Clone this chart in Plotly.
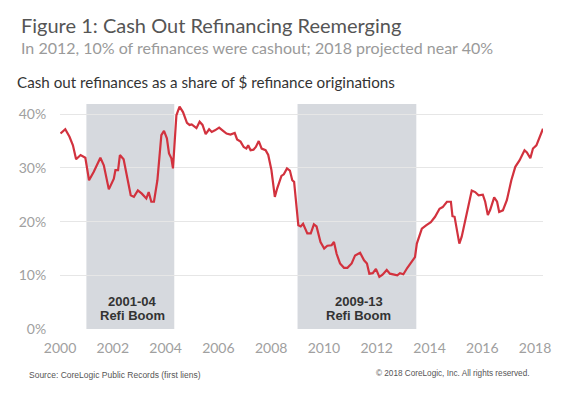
import plotly.graph_objects as go

# Cash out share of $ refinance originations (%)
year = [2000.02, 2000.20, 2000.36, 2000.49, 2000.61, 2000.78, 2000.96, 2001.10, 2001.28, 2001.53,
        2001.66, 2001.85, 2002.04, 2002.10, 2002.20, 2002.27, 2002.41, 2002.55, 2002.68, 2002.80,
        2002.95, 2003.10, 2003.27, 2003.36, 2003.46, 2003.56, 2003.69, 2003.84, 2003.94, 2004.05,
        2004.13, 2004.22, 2004.28, 2004.41, 2004.53, 2004.66, 2004.81, 2004.91, 2004.99, 2005.17,
        2005.29, 2005.40, 2005.52, 2005.65, 2005.75, 2005.87, 2006.03, 2006.18, 2006.31, 2006.46,
        2006.62, 2006.71, 2006.84, 2006.96, 2007.06, 2007.13, 2007.22, 2007.33, 2007.42, 2007.53,
        2007.64, 2007.79, 2007.89, 2008.01, 2008.14, 2008.23, 2008.39, 2008.48, 2008.60, 2008.71,
        2008.80, 2008.87, 2008.96, 2009.03, 2009.12, 2009.21, 2009.37, 2009.50, 2009.62, 2009.72,
        2009.87, 2010.01, 2010.13, 2010.29, 2010.38, 2010.48, 2010.61, 2010.76, 2010.89, 2011.05,
        2011.18, 2011.37, 2011.52, 2011.63, 2011.72, 2011.85, 2011.97, 2012.10, 2012.22, 2012.38,
        2012.50, 2012.63, 2012.78, 2012.88, 2013.01, 2013.16, 2013.33, 2013.45, 2013.52, 2013.62,
        2013.71, 2013.87, 2014.05, 2014.21, 2014.38, 2014.50, 2014.66, 2014.81, 2014.87, 2014.95,
        2015.04, 2015.13, 2015.22, 2015.35, 2015.48, 2015.60, 2015.73, 2015.86, 2016.02, 2016.11,
        2016.21, 2016.30, 2016.45, 2016.56, 2016.64, 2016.78, 2016.93, 2017.10, 2017.25, 2017.41,
        2017.60, 2017.69, 2017.82, 2017.92, 2018.05, 2018.13, 2018.30]
share = [36.4, 37.2, 35.8, 34.2, 31.6, 32.4, 31.9, 27.7, 29.3, 31.9,
         30.5, 26.0, 28.0, 29.6, 29.6, 32.4, 31.6, 28.0, 24.9, 24.6,
         25.8, 25.2, 24.3, 25.5, 23.7, 23.7, 27.7, 36.1, 36.9, 35.5,
         32.7, 31.8, 29.9, 39.8, 41.4, 40.4, 38.4, 38.0, 38.1, 37.4,
         38.6, 38.0, 36.3, 37.2, 36.7, 37.0, 37.5, 36.9, 36.4, 36.2,
         36.5, 35.3, 34.9, 33.9, 33.6, 34.2, 33.3, 33.4, 33.9, 35.0,
         33.6, 33.3, 32.4, 29.6, 24.6, 26.2, 28.5, 28.8, 29.9, 29.5,
         27.7, 27.4, 22.1, 19.3, 19.1, 19.6, 17.8, 17.8, 19.5, 19.1,
         16.2, 15.0, 15.5, 15.6, 16.2, 14.0, 12.2, 11.4, 11.4, 12.2,
         13.7, 14.2, 12.8, 12.2, 10.3, 10.4, 11.2, 9.7, 10.1, 11.0,
         10.3, 10.1, 10.0, 10.4, 10.2, 11.4, 12.5, 13.4, 15.9, 17.4,
         18.7, 19.3, 19.9, 20.9, 22.4, 22.7, 23.7, 23.7, 21.0, 20.9,
         18.4, 15.9, 17.2, 20.2, 23.4, 25.8, 25.5, 24.9, 25.0, 23.7,
         21.2, 22.2, 24.5, 23.7, 21.8, 22.1, 24.0, 27.7, 30.2, 31.4,
         33.3, 32.9, 31.8, 33.6, 34.2, 35.2, 37.3]

boom_start = [2001.0, 2009.0]
boom_end = [2004.33, 2013.5]
boom_period = ["2001-04", "2009-13"]
boom_name = ["Refi Boom", "Refi Boom"]

x_ticks = [2000, 2002, 2004, 2006, 2008, 2010, 2012, 2014, 2016, 2018]
y_ticks = [0, 10, 20, 30, 40]

FONT = "Lato"

fig = go.Figure()
fig.add_trace(go.Scatter(x=year, y=share, mode="lines",
                         line=dict(color="#d2323e", width=2.2),
                         hoverinfo="x+y", showlegend=False))

for s, e, p, n in zip(boom_start, boom_end, boom_period, boom_name):
    fig.add_vrect(x0=s, x1=e, fillcolor="#d6d9de", opacity=1, line_width=0, layer="below")
    mid = (s + e) / 2
    fig.add_annotation(x=mid, y=5.1, text=f"<b>{p}</b>", showarrow=False, xshift=2,
                       font=dict(family="Liberation Sans, Arial", size=13, color="#333333"))
    fig.add_annotation(x=mid, y=2.5, text=f"<b>{n}</b>", showarrow=False, xshift=2,
                       font=dict(family="Liberation Sans, Arial", size=13, color="#333333"))

# titles and notes
fig.add_annotation(xref="paper", yref="paper", x=0, y=1, xanchor="left", yanchor="middle",
                   xshift=-41, yshift=79, showarrow=False,
                   text="Figure 1: Cash Out Refinancing Reemerging",
                   font=dict(family=FONT, size=20, color="#555555"))
fig.add_annotation(xref="paper", yref="paper", x=0, y=1, xanchor="left", yanchor="middle",
                   xshift=-41, yshift=57, showarrow=False,
                   text="In 2012, 10% of refinances were cashout; 2018 projected near 40%",
                   font=dict(family=FONT, size=16, color="#9a9a9a"))
fig.add_annotation(xref="paper", yref="paper", x=0, y=1, xanchor="left", yanchor="middle",
                   xshift=-45, yshift=22, showarrow=False,
                   text="Cash out refinances as a share of $ refinance originations",
                   font=dict(family=FONT, size=15.2, color="#333333"))
fig.add_annotation(xref="paper", yref="paper", x=0, y=0, xanchor="left", yanchor="middle",
                   xshift=-33, yshift=-46, showarrow=False,
                   text="Source: CoreLogic Public Records (first liens)",
                   font=dict(family="Liberation Sans, Arial", size=8.5, color="#555555"))
fig.add_annotation(xref="paper", yref="paper", x=1, y=0, xanchor="right", yanchor="middle",
                   xshift=-12, yshift=-44, showarrow=False,
                   text="© 2018 CoreLogic, Inc. All rights reserved.",
                   font=dict(family="Liberation Sans, Arial", size=8.2, color="#555555"))

fig.update_layout(
    width=570, height=395,
    margin=dict(l=60, r=27, t=104, b=66),
    paper_bgcolor="white", plot_bgcolor="white",
    font=dict(family=FONT, color="#999999"),
    xaxis=dict(range=[2000, 2018.3], tickvals=x_ticks, ticktext=[str(t) for t in x_ticks],
               showgrid=False, zeroline=False, showline=False,
               ticks="outside", ticklen=6, tickcolor="rgba(0,0,0,0)",
               tickfont=dict(family=FONT, size=14, color="#a0a0a0")),
    yaxis=dict(range=[0, 41.9], tickvals=y_ticks, ticktext=[f"{t}%" for t in y_ticks],
               showgrid=True, gridcolor="#e6e6e6", gridwidth=1, zeroline=False, showline=False,
               ticks="outside", ticklen=10, tickcolor="rgba(0,0,0,0)",
               tickfont=dict(family=FONT, size=14, color="#a0a0a0")),
)

fig.write_html("out.html", config={"displayModeBar": False},
               post_script="document.body.style.margin='0';")
